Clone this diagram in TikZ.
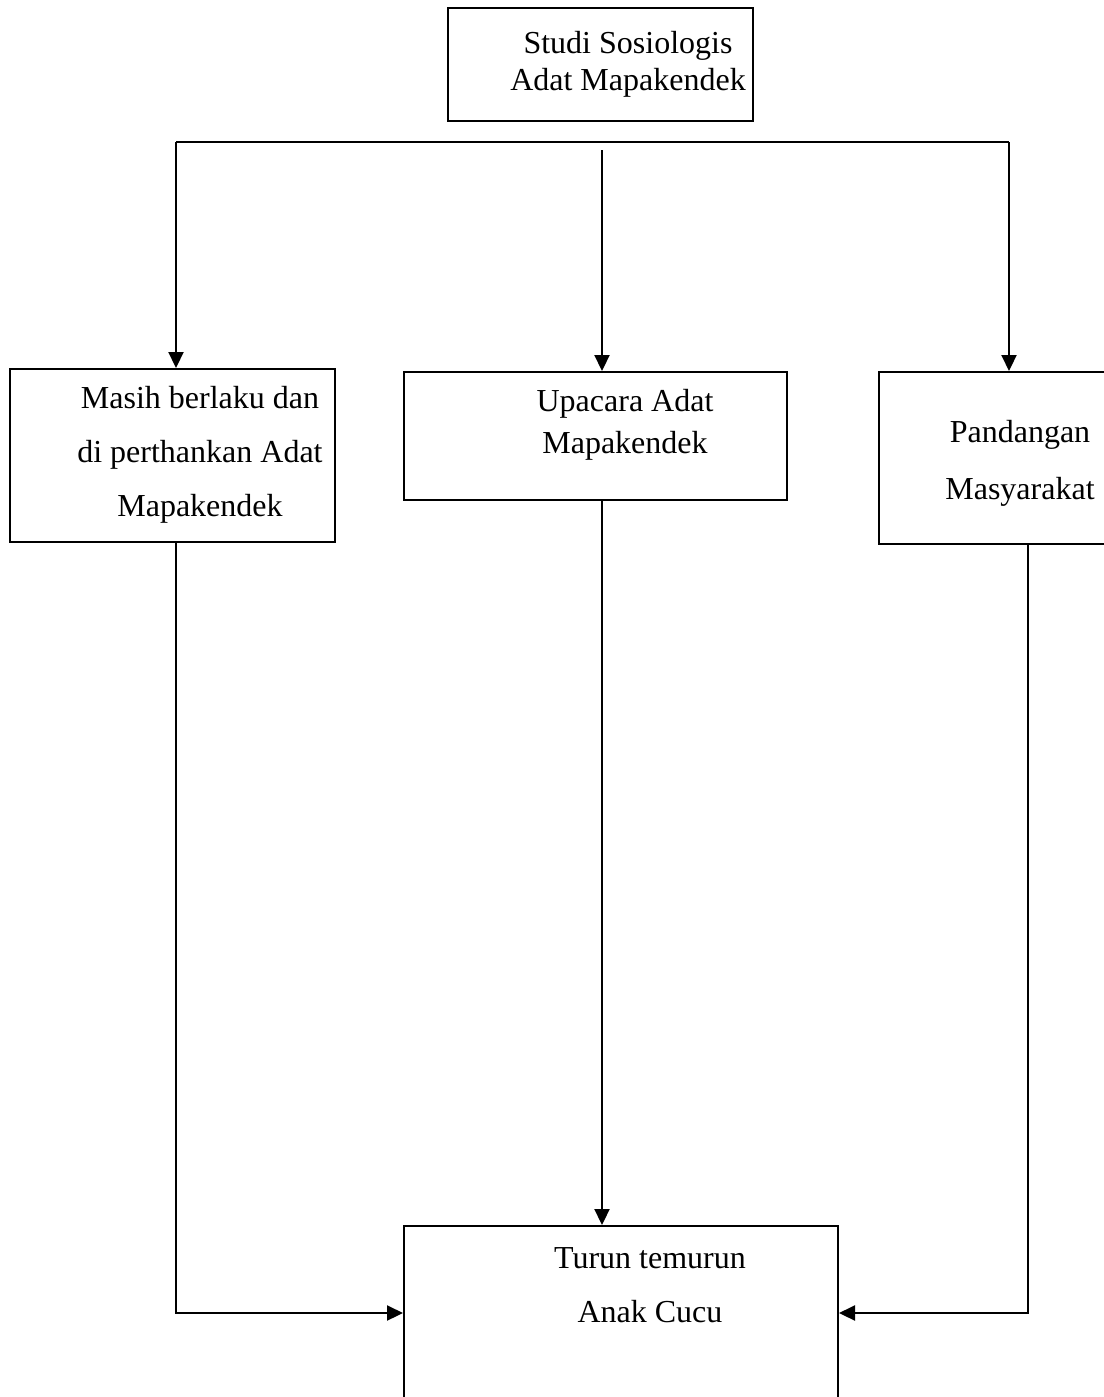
\documentclass[tikz,border=0pt]{standalone}
\usepackage{fontspec}
\setmainfont{Liberation Serif}
\usepackage{tikz}
\usetikzlibrary{arrows.meta,positioning,calc}
\tikzset{
  box/.style={draw=black, line width=1pt, rectangle, inner sep=0pt},
  txt/.style={align=center, inner sep=0pt, font=\fontsize{16}{27}\selectfont},
  arrow/.style={-{Triangle[length=8pt,width=7.5pt]}, line width=1.1pt},
  link/.style={line width=1.1pt}
}

\begin{document}
\begin{tikzpicture}[x=0.5pt, y=-0.5pt]
\useasboundingbox (0,0) rectangle (1103,1397);
\node[box, minimum width=152.5pt, minimum height=56.5pt] (studi) at (600.5,64.5) {};
\node[txt, font=\fontsize{16}{18.5}\selectfont] (studit) at (628,64) {Studi Sosiologis\\Adat Mapakendek};
\node[box, minimum width=162.5pt, minimum height=86.5pt] (masih) at (172.5,455.5) {};
\node[txt] (masiht) at (200,455) {Masih berlaku dan\\di perthankan Adat\\Mapakendek};
\node[box, minimum width=191.5pt, minimum height=64pt] (upacara) at (595.5,436) {};
\node[txt, font=\fontsize{16}{21}\selectfont] (upacarat) at (625,425) {Upacara Adat\\Mapakendek};
\node[box, minimum width=120.5pt, minimum height=86pt] (pandangan) at (999.5,458) {};
\node[txt, font=\fontsize{16}{28.5}\selectfont] (pandangant) at (1020,463) {Pandangan\\Masyarakat};
\node[box, minimum width=217pt, minimum height=102pt] (turun) at (621,1328) {};
\node[txt] (turunt) at (650,1285) {Turun temurun\\Anak Cucu};
% garis cabang
\coordinate (kiri) at (176,142);
\coordinate (kanan) at (1009,142);
\coordinate (tengah) at (602,150);
\coordinate (bawah) at (0,1313);
\draw[link] (kiri) -- (kanan);
\draw[arrow] (kiri) -- (kiri |- masih.north);
\draw[arrow] (tengah) -- (tengah |- upacara.north);
\draw[arrow] (kanan) -- (kanan |- pandangan.north);
% ke bawah
\draw[arrow] (upacara.south -| tengah) -- (tengah |- turun.north);
\draw[arrow] (masih.south -| kiri) |- (turun.west |- bawah);
\draw[arrow] ($(pandangan.south)+(28.5,0)$) |- (turun.east |- bawah);
\end{tikzpicture}
\end{document}
